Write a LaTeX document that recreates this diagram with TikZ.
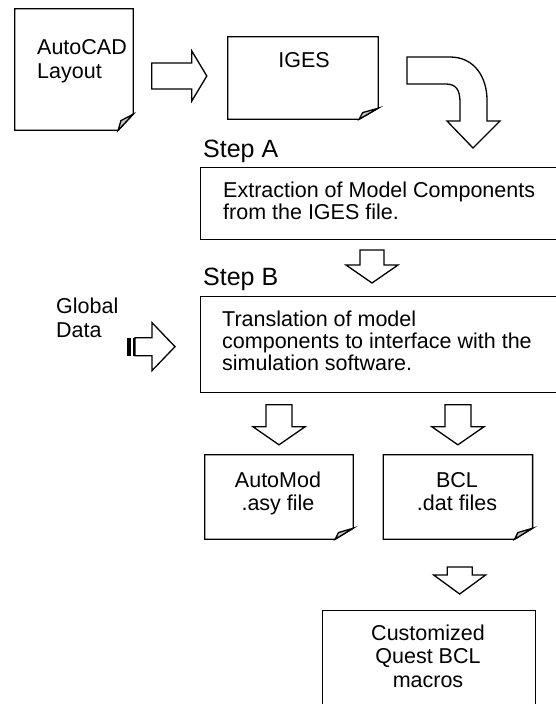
\documentclass[tikz,border=0pt]{standalone}
\usepackage{fontspec}
\setmainfont{Liberation Sans}
\usetikzlibrary{positioning,calc}
\definecolor{curl}{gray}{0.78}

% page with a curled lower right corner: node, fold width, fold height
\newcommand{\docpage}[3]{%
  \draw[outline] (#1.north west) -- (#1.north east) -- ($(#1.south east)+(0,-#3)$)
     -- ($(#1.south east)+(-#2,0)$) -- (#1.south west) -- cycle;
  \draw[outline,fill=curl] ($(#1.south east)+(-#2,0)$) -- ($(#1.south east)+({-0.82*#2},{-0.6*#3})$)
     -- ($(#1.south east)+(0,-#3)$) -- cycle;
}
% block arrow: tip, angle, length, head length, half shaft, half head
\newcommand{\blockarrow}[6]{%
  \draw[outline,shift={#1},rotate=#2] (0,0) -- (-#4,#6) -- (-#4,#5) -- (-#3,#5)
     -- (-#3,-#5) -- (-#4,-#5) -- (-#4,-#6) -- cycle;
}

\begin{document}
\begin{tikzpicture}[x=1pt,y=-1pt,
    every node/.style={inner sep=0pt},
    outline/.style={draw=black,line width=1.3pt,line join=miter},
    page/.style={minimum width=#1},
    box/.style={outline,anchor=north west},
    txt/.style={font=\fontsize{21.5}{24}\selectfont,align=left,anchor=base west},
    boxtxt/.style={txt,font=\fontsize{21.5}{22}\selectfont},
    ctxt/.style={txt,align=center,anchor=base},
    head/.style={font=\fontsize{25}{28}\selectfont,anchor=base west}]
  \useasboundingbox (0,0) rectangle (555,704);

  % files and boxes
  \node[page=118pt,minimum height=121pt] (autocad) at (74,69.5) {};
  \node[page=150pt,minimum height=82pt] (iges) at (303,78) {};
  \node[box,minimum width=420pt,minimum height=72pt] (extract) at (200,167) {};
  \node[box,minimum width=420pt,minimum height=96pt] (translate) at (200,296) {};
  \node[page=148pt,minimum height=84pt] (automod) at (279,497) {};
  \node[page=149pt,minimum height=84pt] (bcl) [right=30pt of automod] {};
  \node[box,minimum width=213pt,minimum height=120pt] (macros) at (322,610) {};
  \docpage{autocad}{15}{16}
  \docpage{iges}{19}{11}
  \docpage{automod}{18}{11}
  \docpage{bcl}{18}{11}

  % texts (multi-line ones sit on their last line)
  \node[txt] (autocadtxt) at (37,78) {AutoCAD\\Layout};
  \node[ctxt] (igestxt) at (304,67) {IGES};
  \node[head] (stepa) at (203,157) {Step A};
  \node[boxtxt] (extracttxt) at (223,219) {Extraction of Model Components\\from the IGES file.};
  \node[head] (stepb) at (203,285) {Step B};
  \node[txt] (globaltxt) at (56,337) {Global\\Data};
  \node[boxtxt] (translatetxt) at (222,370) {Translation of model\\components to interface with the\\simulation software.};
  \node[ctxt,font=\fontsize{21.5}{23}\selectfont] (automodtxt) at (278,510) {AutoMod\\.asy file};
  \node[ctxt,font=\fontsize{21.5}{23}\selectfont] (bcltxt) at (457,510) {BCL\\.dat files};
  \node[ctxt,font=\fontsize{21.5}{23.5}\selectfont] (macrostxt) at (428,687) {Customized\\Quest BCL\\macros};

  % block arrows
  \blockarrow{($(iges.west)+(-21,-2)$)}{0}{55}{15}{13}{25}
  \blockarrow{($(translate.north west)+(172,-13)$)}{-90}{33}{18}{12}{26}
  \blockarrow{($(automod.north)+(0,-10)$)}{-90}{40}{18}{13}{26}
  \blockarrow{($(bcl.north)+(0,-10)$)}{-90}{40}{18}{13}{26}
  \blockarrow{($(macros.north)+(30.5,-16)$)}{-90}{27}{19}{12.5}{26}
  \blockarrow{($(translate.west)+(-25,2)$)}{0}{40}{23}{9}{24}
  \fill (127,338) rectangle (131,356);
  \fill (133,338) rectangle (135,356);
  \draw[outline] (407,57) -- (450,57) .. controls (475,57) and (487,78) .. (487,100)
     -- (487,121) -- (500,121) -- (473,148) -- (447,121) -- (460,121) -- (460,102)
     .. controls (460,90) and (456,84) .. (446,84) -- (407,84) -- cycle;
\end{tikzpicture}
\end{document}
